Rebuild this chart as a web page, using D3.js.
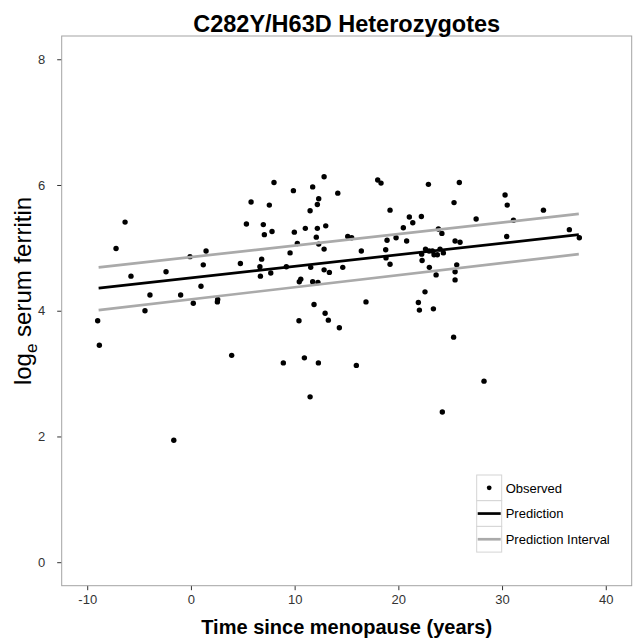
<!DOCTYPE html>
<html>
<head>
<meta charset="utf-8">
<script src="https://d3js.org/d3.v7.min.js"></script>
<style>
body { margin: 0; background: #fff; }
svg text { font-family: "Liberation Sans", Arial, sans-serif; }
</style>
</head>
<body>
<div class="chart"></div>
<script>
// observed points: time since menopause (years) and log serum ferritin
const years = [
  -8.83, -8.99, -6.35, -7.22, -5.78, -4.43, -3.95, -2.40, -0.99, -0.09,
  0.23, 0.97, 1.19, 1.46, 2.58, 2.55, 3.93, 4.77, 5.35, 5.80,
  6.65, 6.70, -1.65,
  8.01, 7.56, 6.98, 7.08, 7.82, 9.88, 11.74, 12.84, 12.32, 12.19,
  11.49, 14.16, 9.97, 11.03, 12.19, 13.00, 10.26, 12.09, 12.32, 12.84,
  9.56, 6.82, 7.70, 9.20, 11.55, 10.59, 10.45, 11.74, 12.25, 12.84,
  13.35, 14.64, 15.12, 15.50, 16.43, 18.01, 18.33, 19.20, 18.91, 19.78,
  20.48, 21.06, 21.39, 22.22, 22.90, 20.80, 18.78, 18.81, 19.20, 23.86,
  24.20, 22.25, 22.62, 22.96, 23.28, 23.44, 23.76, 24.02, 24.34, 22.29,
  22.99, 23.64, 22.57, 21.93, 22.03, 23.38, 16.88, 11.87, 12.94, 13.25,
  14.31, 10.42, 10.94,
  25.37, 30.50, 27.50, 25.47, 25.95, 30.45, 25.88, 30.29, 33.99, 31.10,
  36.49, 37.45, 25.63, 25.47, 25.47, 25.33,
  8.91, 12.29, 11.49, 15.95, 28.26, 24.24
];
const ferritin = [
  3.45, 3.84, 5.41, 4.99, 4.55, 4.00, 4.25, 4.62, 4.25, 4.86,
  4.12, 4.39, 4.73, 4.95, 4.18, 4.14, 3.29, 4.75, 5.38, 5.73,
  4.70, 4.55, 1.94,
  6.04, 5.68, 5.37, 5.21, 5.26, 5.91, 5.97, 6.13, 5.78, 5.69,
  5.59, 5.87, 5.25, 5.31, 5.31, 5.35, 5.07, 5.17, 5.06, 4.98,
  4.92, 4.82, 4.60, 4.70, 4.69, 4.50, 4.46, 4.46, 4.45, 4.65,
  4.61, 4.69, 5.18, 5.16, 4.95, 6.08, 6.03, 5.60, 5.12, 5.16,
  5.32, 5.49, 5.40, 5.50, 6.01, 5.11, 4.97, 4.84, 4.74, 5.30,
  5.23, 4.90, 4.98, 4.95, 4.95, 4.89, 4.89, 4.98, 4.92, 4.80,
  4.69, 4.57, 4.30, 4.13, 4.01, 4.03, 4.14, 4.10, 3.96, 3.85,
  3.73, 3.84, 3.25,
  5.72, 5.68, 5.46, 5.11, 5.09, 5.18, 6.04, 5.84, 5.60, 5.44,
  5.29, 5.16, 4.73, 4.62, 4.49, 3.58,
  3.17, 3.17, 2.63, 3.13, 2.88, 2.39
];

// fitted line and prediction interval, at the ends of the observed range
const predYears = [-8.9, 37.4];
const prediction = [4.36, 5.21];
const upperPI = [4.69, 5.54];
const lowerPI = [4.01, 4.90];

const xTicks = [-10, 0, 10, 20, 30, 40];
const yTicks = [0, 2, 4, 6, 8];
const legendLabels = ['Observed', 'Prediction', 'Prediction Interval'];

const width = 635, height = 641;
const panelLeft = 61.7, panelRight = 631.7, panelTop = 36, panelBottom = 585.7;

const svg = d3.select('.chart').append('svg')
  .attr('width', width)
  .attr('height', height);

const x = d3.scaleLinear().domain([-12.46, 42.5]).range([panelLeft, panelRight]);
const y = d3.scaleLinear().domain([-0.374, 8.37]).range([panelBottom, panelTop]);

// axes (no domain line, the panel border does that job)
const xAxis = svg.append('g')
  .attr('transform', `translate(0,${panelBottom})`)
  .call(d3.axisBottom(x).tickValues(xTicks).tickSize(4.5).tickPadding(5).tickFormat(d3.format('d')));
const yAxis = svg.append('g')
  .attr('transform', `translate(${panelLeft},0)`)
  .call(d3.axisLeft(y).tickValues(yTicks).tickSize(4.5).tickPadding(12));

[xAxis, yAxis].forEach(function(ax) {
  ax.select('.domain').remove();
  ax.selectAll('.tick line').attr('stroke', '#333').attr('stroke-width', 1);
  ax.selectAll('.tick text')
    .attr('fill', '#333')
    .style('font-size', '13px')
    .style('font-family', '"Liberation Sans", Arial, sans-serif');
});
xAxis.selectAll('.tick text').text(d => d < 0 ? '-' + Math.abs(d) : d);

// panel border
svg.append('rect')
  .attr('x', panelLeft).attr('y', panelTop)
  .attr('width', panelRight - panelLeft).attr('height', panelBottom - panelTop)
  .attr('fill', 'none')
  .attr('stroke', '#a3a3a3')
  .attr('stroke-width', 1);

// observed points
const pts = years.map((d, i) => ({ t: d, v: ferritin[i] }));
svg.append('g').selectAll('circle')
  .data(pts)
  .enter().append('circle')
  .attr('cx', d => x(d.t))
  .attr('cy', d => y(d.v))
  .attr('r', 2.7)
  .attr('fill', '#000');

// prediction lines on top of the points
const line = d3.line().x(d => x(d[0])).y(d => y(d[1]));
[[upperPI, '#aaaaaa'], [lowerPI, '#aaaaaa'], [prediction, '#000']].forEach(function(s) {
  svg.append('path')
    .attr('d', line(predYears.map((t, i) => [t, s[0][i]])))
    .attr('fill', 'none')
    .attr('stroke', s[1])
    .attr('stroke-width', 2.7);
});

// title and axis titles
svg.append('text')
  .attr('x', (panelLeft + panelRight) / 2).attr('y', 32)
  .attr('text-anchor', 'middle')
  .style('font-size', '23.5px').style('font-weight', 'bold')
  .text('C282Y/H63D Heterozygotes');

svg.append('text')
  .attr('x', (panelLeft + panelRight) / 2).attr('y', 634)
  .attr('text-anchor', 'middle')
  .style('font-size', '20px').style('font-weight', 'bold')
  .text('Time since menopause (years)');

const yTitle = svg.append('text')
  .attr('transform', 'translate(31,291) rotate(-90)')
  .attr('text-anchor', 'middle')
  .style('font-size', '24px');
yTitle.append('tspan').text('log');
yTitle.append('tspan').attr('dy', 6).style('font-size', '17px').text('e');
yTitle.append('tspan').attr('dy', -6).text(' serum ferritin');

// legend
const keyW = 25, keyH = 25.7, legX = 476.7, legY = 475;
const leg = svg.append('g').attr('transform', `translate(${legX},${legY})`);
legendLabels.forEach(function(label, i) {
  const g = leg.append('g').attr('transform', `translate(0,${i * keyH})`);
  g.append('rect')
    .attr('width', keyW).attr('height', keyH)
    .attr('fill', '#fff').attr('stroke', '#d4d4d4').attr('stroke-width', 1);
  if (i === 0) {
    g.append('circle').attr('cx', keyW / 2).attr('cy', keyH / 2).attr('r', 2.4).attr('fill', '#000');
  } else {
    g.append('line')
      .attr('x1', 1).attr('x2', keyW - 1)
      .attr('y1', keyH / 2).attr('y2', keyH / 2)
      .attr('stroke', i === 1 ? '#000' : '#aaaaaa')
      .attr('stroke-width', 2.7);
  }
  g.append('text')
    .attr('x', keyW + 4).attr('y', keyH / 2)
    .attr('dy', '0.36em')
    .style('font-size', '13px')
    .text(label);
});
</script>
</body>
</html>
